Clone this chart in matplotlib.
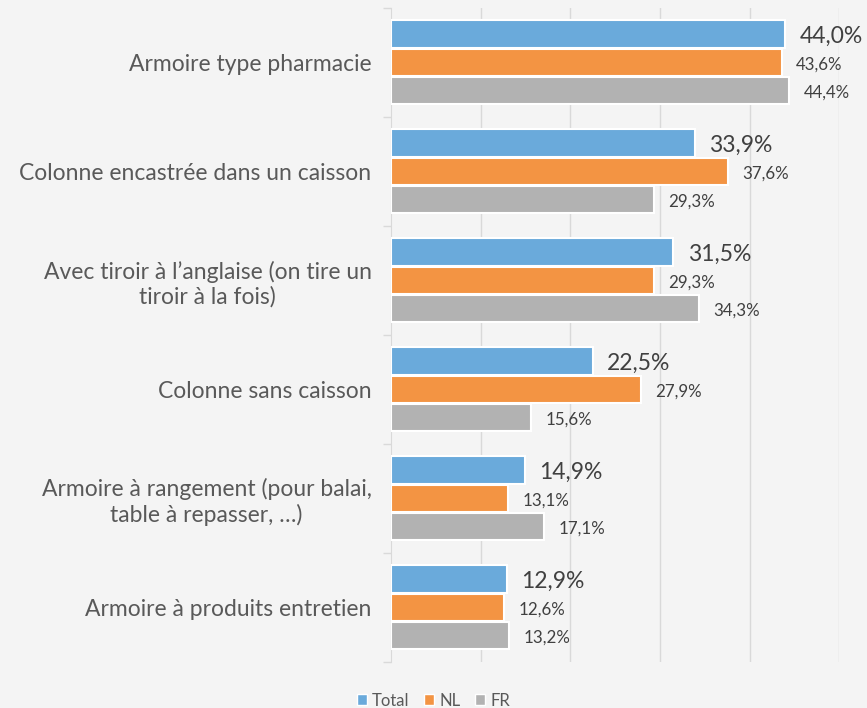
import matplotlib

matplotlib.use("Agg")
import matplotlib.pyplot as plt
from matplotlib.patches import Patch

categories = [
    "Armoire type pharmacie",
    "Colonne encastrée dans un caisson",
    "Avec tiroir à l’anglaise (on tire un\ntiroir à la fois)",
    "Colonne sans caisson",
    "Armoire à rangement (pour balai,\ntable à repasser, …)",
    "Armoire à produits entretien",
]
total = [44.0, 33.9, 31.5, 22.5, 14.9, 12.9]
nl = [43.6, 37.6, 29.3, 27.9, 13.1, 12.6]
fr = [44.4, 29.3, 34.3, 15.6, 17.1, 13.2]
series_names = ["Total", "NL", "FR"]

colors = ["#6aaadb", "#f39443", "#b2b2b2"]
bg = "#f4f4f4"
grid_col = "#d9d9d9"
text_col = "#404040"

plt.rcParams["font.family"] = ["Lato", "DejaVu Sans"]

fig = plt.figure(figsize=(8.67, 7.08), dpi=100, facecolor=bg)
ax = fig.add_axes([0.451, 0.065, 0.517, 0.924])
ax.set_facecolor(bg)

h = 0.25
offsets = [-0.26, 0.0, 0.26]
label_sizes = [16.5, 12.2, 12.2]
for s, (vals, off) in enumerate(zip([total, nl, fr], offsets)):
    ys = [i + off for i in range(len(categories))]
    ax.barh(ys, vals, height=h, color=colors[s], edgecolor="white",
            linewidth=1.5, zorder=3)
    for y, v in zip(ys, vals):
        ax.text(v + 1.6, y + 0.02, f"{v:.1f}".replace(".", ",") + "%",
                va="center", ha="left", fontsize=label_sizes[s],
                color=text_col, zorder=4)

ax.set_xlim(0, 50)
ax.set_ylim(len(categories) - 0.5, -0.5)
ax.set_xticks([10, 20, 30, 40, 50])
ax.xaxis.grid(True, color=grid_col, linewidth=1, zorder=0)
ax.tick_params(axis="x", length=0, labelbottom=False)

ax.set_yticks(range(len(categories)))
ax.set_yticklabels(categories, fontsize=16.5, color="#595959",
                   multialignment="center")
ax.tick_params(axis="y", which="major", length=0, pad=14)
ax.set_yticks([i - 0.5 for i in range(len(categories) + 1)], minor=True)
ax.tick_params(axis="y", which="minor", length=6, color=grid_col, width=1)

for side in ["top", "right", "bottom"]:
    ax.spines[side].set_visible(False)
ax.spines["left"].set_color(grid_col)

handles = [Patch(facecolor=c, edgecolor="white", label=n)
           for c, n in zip(colors, series_names)]
fig.legend(handles=handles, loc="lower center", bbox_to_anchor=(0.5, -0.022),
           ncol=3, frameon=False, fontsize=12, handlelength=0.6,
           handleheight=0.6, handletextpad=0.3, columnspacing=0.9,
           labelcolor="#595959")

fig.savefig("out.png", dpi=100, facecolor=bg)
